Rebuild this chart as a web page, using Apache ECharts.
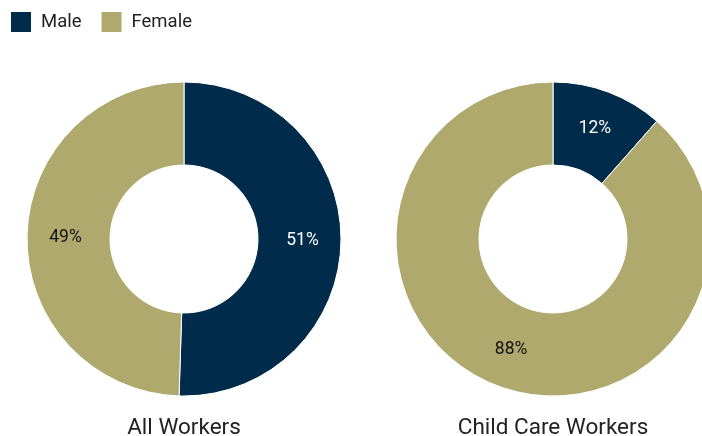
<!DOCTYPE html>
<html><head><meta charset="utf-8">
<script src="https://cdn.jsdelivr.net/npm/echarts@6/dist/echarts.min.js"></script>
<style>html,body{margin:0;padding:0;background:#fff}#c{width:702px;height:436px}</style>
</head><body><div id="c"></div>
<script>
const categories = ['Male', 'Female'];
const groups = ['All Workers', 'Child Care Workers'];
// shares as drawn (slice angles) and the rounded labels printed on them
const allWorkers = [50.5, 49.5];
const childCareWorkers = [11.5, 88.5];
const allWorkersLabels = ['51%', '49%'];
const childCareLabels = ['12%', '88%'];
const colors = ['#002b4a', '#b0a96e'];
const labelColors = ['#ffffff', '#111111'];

function mkData(vals, labels) {
  return vals.map((v, i) => ({
    name: categories[i], value: v, labelText: labels[i],
    itemStyle: { color: colors[i] },
    label: { color: labelColors[i] }
  }));
}
const centers = [[184, 239], [553, 239]];
const seriesVals = [allWorkers, childCareWorkers];
const seriesLabels = [allWorkersLabels, childCareLabels];
const chart = echarts.init(document.getElementById('c'));
chart.setOption({
  animation: false,
  textStyle: { fontFamily: 'Roboto' },
  legend: {
    left: 9, top: 10, padding: 0, itemWidth: 22, itemHeight: 22, itemGap: 18,
    icon: 'rect',
    data: categories,
    textStyle: { fontSize: 18.5, color: '#222', fontFamily: 'Roboto', padding: [0, 0, 0, 4] }
  },
  title: groups.map((g, i) => ({
    text: g, left: centers[i][0], top: 417, textAlign: 'center', padding: 0,
    textStyle: { fontSize: 22.5, fontWeight: 'normal', color: '#222', fontFamily: 'Roboto' }
  })),
  series: seriesVals.map((vals, i) => ({
    type: 'pie', name: groups[i],
    center: centers[i], radius: [74, 157],
    startAngle: 90, clockwise: true,
    data: mkData(vals, seriesLabels[i]),
    itemStyle: { borderColor: '#fff', borderWidth: 1 },
    label: { position: 'inside', formatter: p => p.data.labelText, fontSize: 17.5, fontFamily: 'Roboto' },
    labelLine: { show: false },
    emphasis: { disabled: true }
  }))
});
</script></body></html>
